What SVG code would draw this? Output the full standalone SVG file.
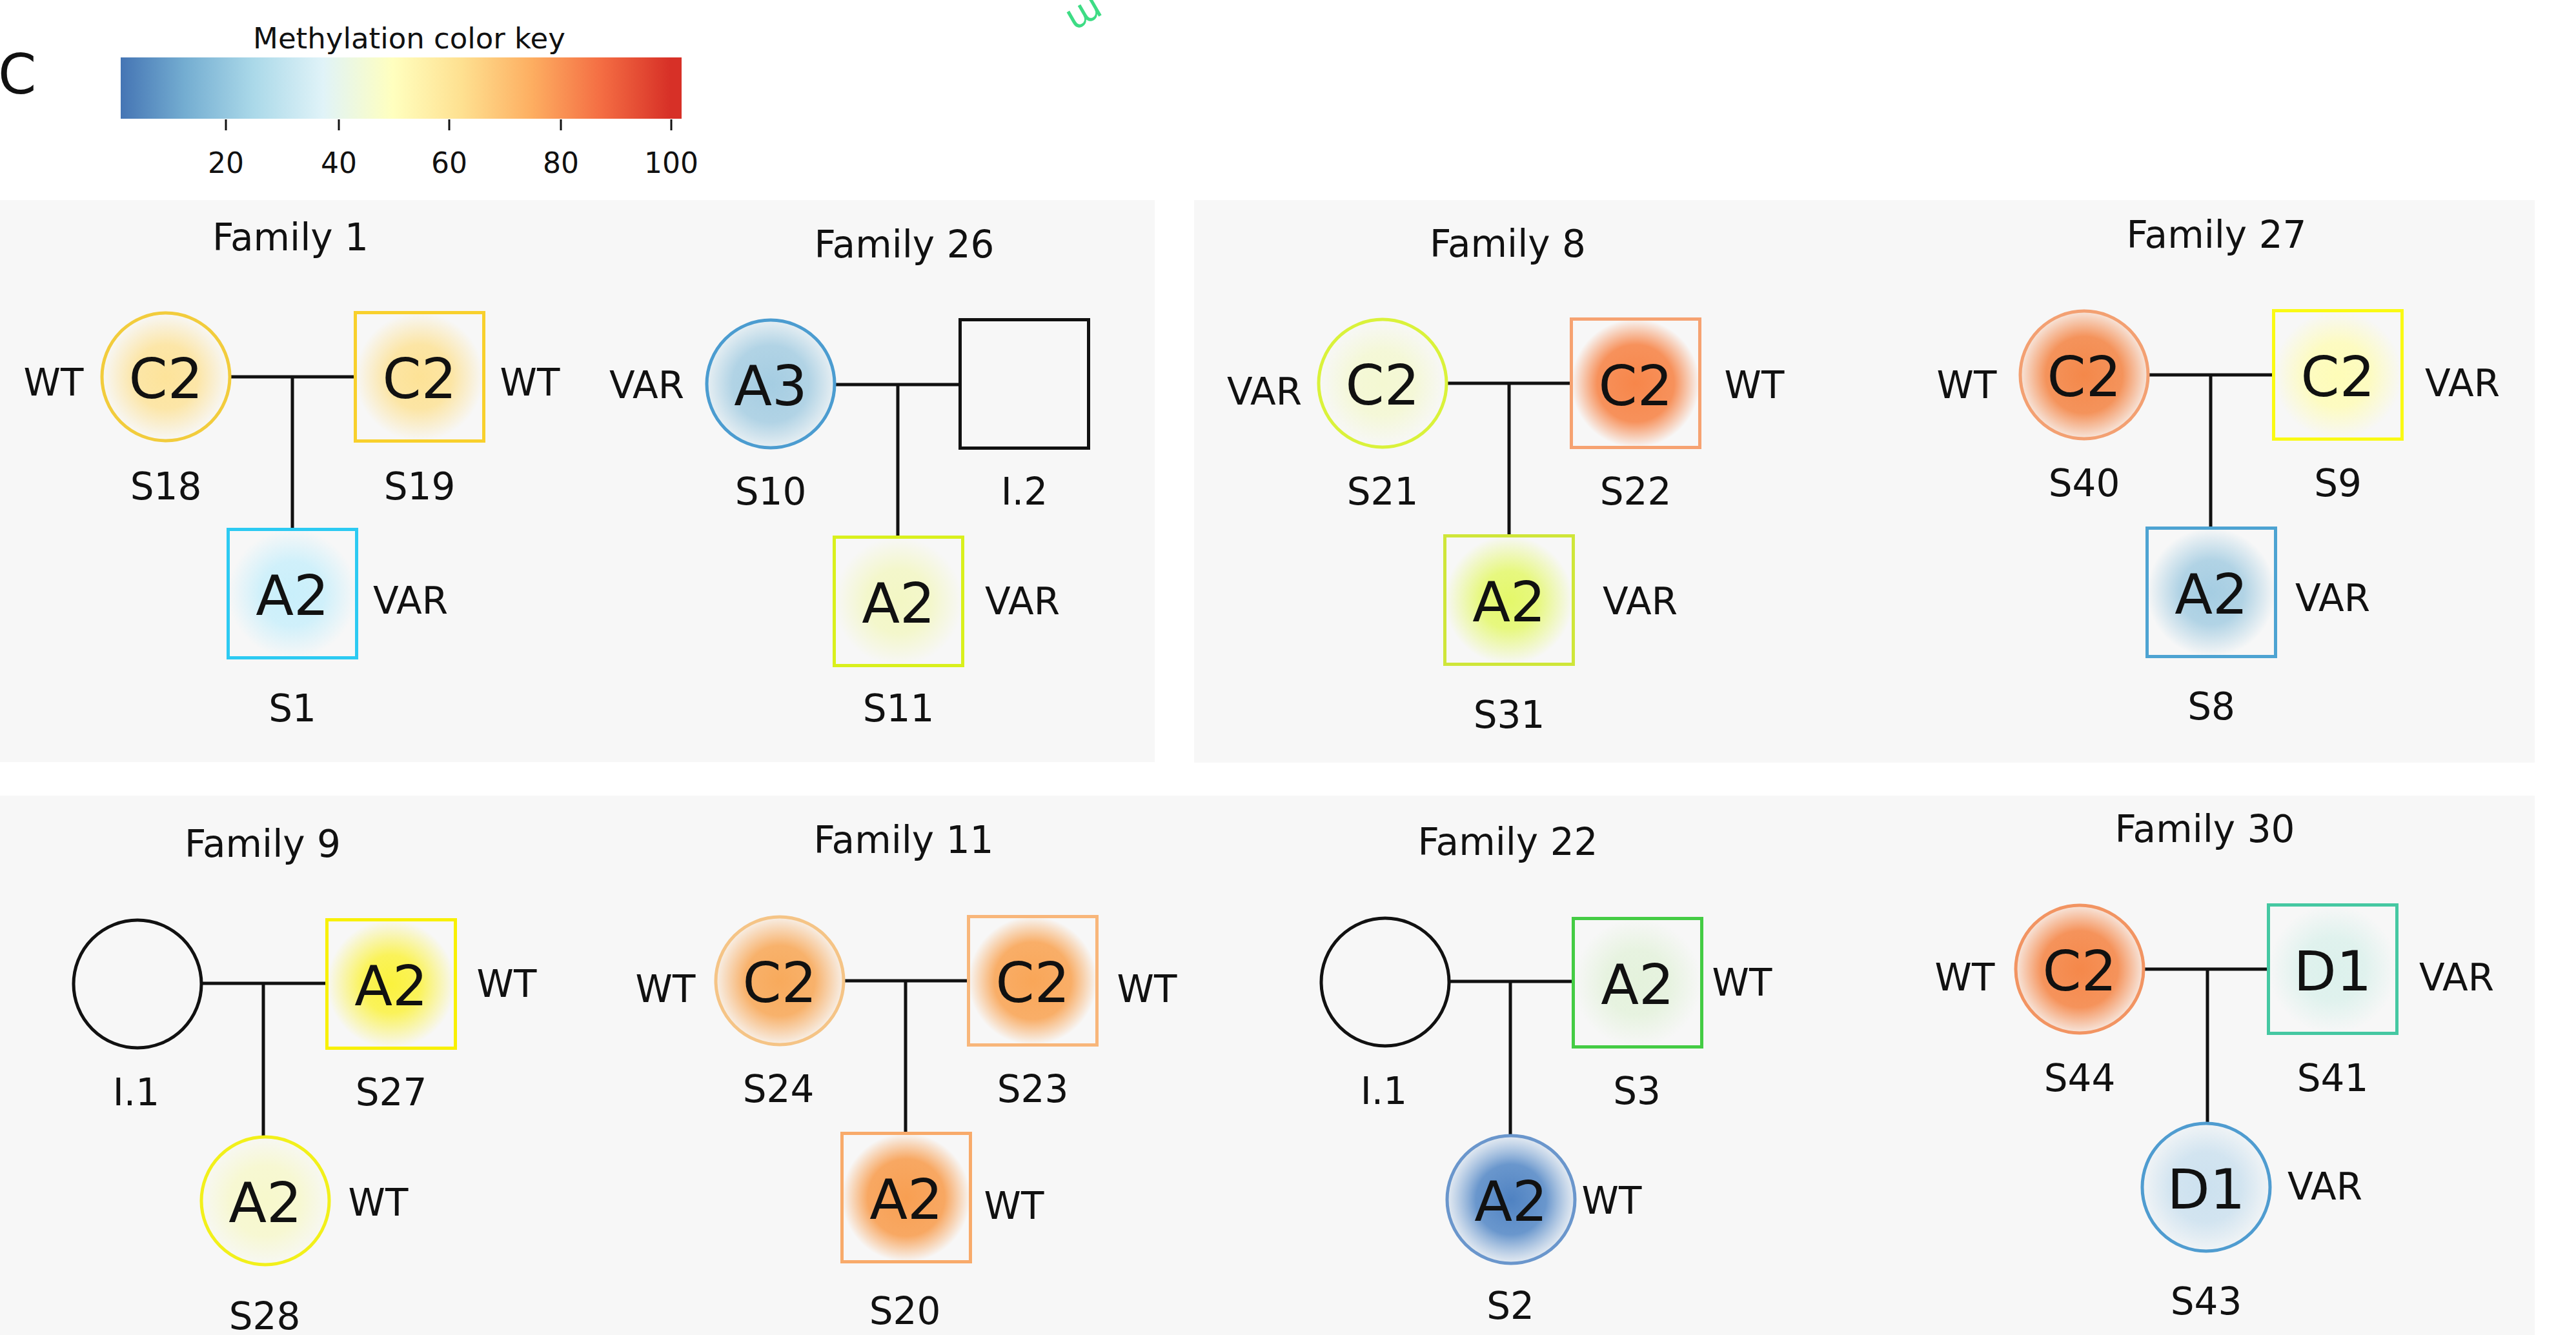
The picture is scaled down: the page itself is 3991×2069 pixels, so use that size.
<svg xmlns="http://www.w3.org/2000/svg" width="3991" height="2069" viewBox="0 0 3991 2069">
<style>
text{font-family:"DejaVu Sans","Liberation Sans",sans-serif;fill:#111}
.panel{fill:#f7f7f7}
.lbl{font-size:58px;text-anchor:middle}
.nid{font-size:86px;text-anchor:middle}
.tick{font-size:44px;text-anchor:middle}
.conn{stroke:#111;stroke-width:5;fill:none}
.nd{stroke-width:5}
.empty{fill:none;stroke:#111;stroke-width:5}
</style>
<defs>
<linearGradient id="cmap" x1="0" y1="0" x2="1" y2="0">
<stop offset="0" stop-color="#4575b4"/>
<stop offset="0.114" stop-color="#74add1"/>
<stop offset="0.238" stop-color="#abd9e9"/>
<stop offset="0.361" stop-color="#e0f3f8"/>
<stop offset="0.485" stop-color="#ffffbf"/>
<stop offset="0.609" stop-color="#fee090"/>
<stop offset="0.733" stop-color="#fdae61"/>
<stop offset="0.857" stop-color="#f46d43"/>
<stop offset="0.98" stop-color="#d73027"/>
<stop offset="1" stop-color="#d73027"/>
</linearGradient>
<radialGradient id="g_s18"><stop offset="0" stop-color="#fde39a"/><stop offset="0.5" stop-color="#fde39a" stop-opacity="0.85"/><stop offset="1" stop-color="#fde39a" stop-opacity="0"/></radialGradient>
<radialGradient id="g_s19"><stop offset="0" stop-color="#fde296"/><stop offset="0.5" stop-color="#fde296" stop-opacity="0.85"/><stop offset="1" stop-color="#fde296" stop-opacity="0"/></radialGradient>
<radialGradient id="g_s1"><stop offset="0" stop-color="#c9effb"/><stop offset="0.5" stop-color="#c9effb" stop-opacity="0.85"/><stop offset="1" stop-color="#c9effb" stop-opacity="0"/></radialGradient>
<radialGradient id="g_s10"><stop offset="0" stop-color="#a5cde2"/><stop offset="0.6" stop-color="#a5cde2" stop-opacity="0.85"/><stop offset="1" stop-color="#a5cde2" stop-opacity="0.2"/></radialGradient>
<radialGradient id="g_s11"><stop offset="0" stop-color="#f3f7c4"/><stop offset="0.5" stop-color="#f3f7c4" stop-opacity="0.85"/><stop offset="1" stop-color="#f3f7c4" stop-opacity="0"/></radialGradient>
<radialGradient id="g_s21"><stop offset="0" stop-color="#f4f8d2"/><stop offset="0.5" stop-color="#f4f8d2" stop-opacity="0.85"/><stop offset="1" stop-color="#f4f8d2" stop-opacity="0"/></radialGradient>
<radialGradient id="g_s22"><stop offset="0" stop-color="#f7864a"/><stop offset="0.6" stop-color="#f7864a" stop-opacity="0.9"/><stop offset="1" stop-color="#f7864a" stop-opacity="0"/></radialGradient>
<radialGradient id="g_s31"><stop offset="0" stop-color="#e4f86a"/><stop offset="0.45" stop-color="#e4f86a" stop-opacity="0.85"/><stop offset="1" stop-color="#e4f86a" stop-opacity="0"/></radialGradient>
<radialGradient id="g_s40"><stop offset="0" stop-color="#f4884a"/><stop offset="0.6" stop-color="#f4884a" stop-opacity="0.9"/><stop offset="1" stop-color="#f4884a" stop-opacity="0.15"/></radialGradient>
<radialGradient id="g_s9"><stop offset="0" stop-color="#fefcb8"/><stop offset="0.5" stop-color="#fefcb8" stop-opacity="0.85"/><stop offset="1" stop-color="#fefcb8" stop-opacity="0"/></radialGradient>
<radialGradient id="g_s8"><stop offset="0" stop-color="#a5cde2"/><stop offset="0.5" stop-color="#a5cde2" stop-opacity="0.85"/><stop offset="1" stop-color="#a5cde2" stop-opacity="0"/></radialGradient>
<radialGradient id="g_s27"><stop offset="0" stop-color="#fbf23e"/><stop offset="0.45" stop-color="#fbf23e" stop-opacity="0.85"/><stop offset="1" stop-color="#fbf23e" stop-opacity="0"/></radialGradient>
<radialGradient id="g_s28"><stop offset="0" stop-color="#f7f8cc"/><stop offset="0.55" stop-color="#f7f8cc" stop-opacity="0.85"/><stop offset="1" stop-color="#f7f8cc" stop-opacity="0.1"/></radialGradient>
<radialGradient id="g_s24"><stop offset="0" stop-color="#f8aa5c"/><stop offset="0.55" stop-color="#f8aa5c" stop-opacity="0.9"/><stop offset="1" stop-color="#f8aa5c" stop-opacity="0.1"/></radialGradient>
<radialGradient id="g_s23"><stop offset="0" stop-color="#f9a658"/><stop offset="0.6" stop-color="#f9a658" stop-opacity="0.9"/><stop offset="1" stop-color="#f9a658" stop-opacity="0"/></radialGradient>
<radialGradient id="g_s20"><stop offset="0" stop-color="#f89f52"/><stop offset="0.6" stop-color="#f89f52" stop-opacity="0.9"/><stop offset="1" stop-color="#f89f52" stop-opacity="0"/></radialGradient>
<radialGradient id="g_s3"><stop offset="0" stop-color="#e4f2dc"/><stop offset="0.5" stop-color="#e4f2dc" stop-opacity="0.85"/><stop offset="1" stop-color="#e4f2dc" stop-opacity="0"/></radialGradient>
<radialGradient id="g_s2"><stop offset="0" stop-color="#4f82c2"/><stop offset="0.55" stop-color="#5a8cc8" stop-opacity="0.9"/><stop offset="1" stop-color="#7aa4d4" stop-opacity="0.15"/></radialGradient>
<radialGradient id="g_s44"><stop offset="0" stop-color="#f5884a"/><stop offset="0.6" stop-color="#f5884a" stop-opacity="0.9"/><stop offset="1" stop-color="#f5884a" stop-opacity="0.15"/></radialGradient>
<radialGradient id="g_s41"><stop offset="0" stop-color="#dcf1ec"/><stop offset="0.5" stop-color="#dcf1ec" stop-opacity="0.85"/><stop offset="1" stop-color="#dcf1ec" stop-opacity="0"/></radialGradient>
<radialGradient id="g_s43"><stop offset="0" stop-color="#cce1ef"/><stop offset="0.55" stop-color="#cce1ef" stop-opacity="0.85"/><stop offset="1" stop-color="#cce1ef" stop-opacity="0.15"/></radialGradient>
</defs>
<rect width="3991" height="2069" fill="#ffffff"/>
<g id="panels">
<rect class="panel" x="0" y="310" width="1789" height="871"/>
<rect class="panel" x="1850" y="310" width="2077" height="872"/>
<rect class="panel" x="0" y="1233" width="3927" height="836"/>
</g>
<g id="header">
<text x="-3" y="145" style="font-size:85px">C</text>
<text x="1672" y="8" transform="rotate(150 1672 8)" style="font-size:56px;fill:#3ddc84;text-anchor:middle">m</text>
<text x="634" y="75" style="font-size:45px;text-anchor:middle">Methylation color key</text>
<rect x="187" y="89" width="869" height="95" fill="url(#cmap)"/>
<g stroke="#111" stroke-width="3">
<line x1="350" y1="185" x2="350" y2="202"/>
<line x1="525" y1="185" x2="525" y2="202"/>
<line x1="696" y1="185" x2="696" y2="202"/>
<line x1="869" y1="185" x2="869" y2="202"/>
<line x1="1040" y1="185" x2="1040" y2="202"/>
</g>
<text class="tick" x="350" y="268">20</text>
<text class="tick" x="525" y="268">40</text>
<text class="tick" x="696" y="268">60</text>
<text class="tick" x="869" y="268">80</text>
<text class="tick" x="1040" y="268">100</text>
</g>
<g id="titles">
<text class="lbl" x="450" y="388">Family 1</text>
<text class="lbl" x="1401" y="399">Family 26</text>
<text class="lbl" x="2336" y="398">Family 8</text>
<text class="lbl" x="3434" y="384">Family 27</text>
<text class="lbl" x="407" y="1328">Family 9</text>
<text class="lbl" x="1400" y="1322">Family 11</text>
<text class="lbl" x="2336" y="1325">Family 22</text>
<text class="lbl" x="3416" y="1305">Family 30</text>
</g>
<g id="connectors">
<path class="conn" d="M356 584H550M453 584V821"/>
<path class="conn" d="M1294 596H1487M1391 596V831"/>
<path class="conn" d="M2241 594H2435M2338 594V830"/>
<path class="conn" d="M3328 581H3522M3425 581V818"/>
<path class="conn" d="M312 1524H506M408 1524V1761"/>
<path class="conn" d="M1308 1520H1501M1403 1520V1756"/>
<path class="conn" d="M2244 1521H2438M2340 1521V1760"/>
<path class="conn" d="M3322 1502H3515M3420 1502V1740"/>
</g>
<!-- Family 1 -->
<g id="S18"><circle class="nd" cx="257" cy="584" r="99" fill="url(#g_s18)" stroke="#f2cc3c"/><text class="nid" x="257" y="617">C2</text><text class="lbl" x="257" y="774">S18</text><text class="lbl" x="83" y="613">WT</text></g>
<g id="S19"><rect class="nd" x="550.5" y="484.5" width="199" height="199" fill="url(#g_s19)" stroke="#f8d02c"/><text class="nid" x="650" y="617">C2</text><text class="lbl" x="650" y="774">S19</text><text class="lbl" x="821" y="613">WT</text></g>
<g id="S1"><rect class="nd" x="353.5" y="820.5" width="199" height="199" fill="url(#g_s1)" stroke="#2ccaf2"/><text class="nid" x="453" y="953">A2</text><text class="lbl" x="453" y="1118">S1</text><text class="lbl" x="636" y="951">VAR</text></g>
<!-- Family 26 -->
<g id="S10"><circle class="nd" cx="1194" cy="595" r="99" fill="url(#g_s10)" stroke="#4b9cd0"/><text class="nid" x="1194" y="628">A3</text><text class="lbl" x="1194" y="782">S10</text><text class="lbl" x="1002" y="617">VAR</text></g>
<g id="I2"><rect class="empty" x="1487.5" y="495.5" width="199" height="199"/><text class="lbl" x="1587" y="782">I.2</text></g>
<g id="S11"><rect class="nd" x="1292.5" y="832.5" width="199" height="199" fill="url(#g_s11)" stroke="#d9f01c"/><text class="nid" x="1392" y="965">A2</text><text class="lbl" x="1392" y="1118">S11</text><text class="lbl" x="1584" y="952">VAR</text></g>
<!-- Family 8 -->
<g id="S21"><circle class="nd" cx="2142" cy="594" r="99" fill="url(#g_s21)" stroke="#daf23a"/><text class="nid" x="2142" y="627">C2</text><text class="lbl" x="2142" y="782">S21</text><text class="lbl" x="1959" y="627">VAR</text></g>
<g id="S22"><rect class="nd" x="2434.5" y="494.5" width="199" height="199" fill="url(#g_s22)" stroke="#f6a271"/><text class="nid" x="2534" y="628">C2</text><text class="lbl" x="2534" y="782">S22</text><text class="lbl" x="2718" y="617">WT</text></g>
<g id="S31"><rect class="nd" x="2238.5" y="830.5" width="199" height="199" fill="url(#g_s31)" stroke="#cfe639"/><text class="nid" x="2338" y="963">A2</text><text class="lbl" x="2338" y="1128">S31</text><text class="lbl" x="2541" y="952">VAR</text></g>
<!-- Family 27 -->
<g id="S40"><circle class="nd" cx="3229" cy="581" r="99" fill="url(#g_s40)" stroke="#f3a072"/><text class="nid" x="3229" y="614">C2</text><text class="lbl" x="3229" y="769">S40</text><text class="lbl" x="3047" y="617">WT</text></g>
<g id="S9"><rect class="nd" x="3522.5" y="481.5" width="199" height="199" fill="url(#g_s9)" stroke="#fafa14"/><text class="nid" x="3622" y="614">C2</text><text class="lbl" x="3622" y="769">S9</text><text class="lbl" x="3815" y="614">VAR</text></g>
<g id="S8"><rect class="nd" x="3326.5" y="818.5" width="199" height="199" fill="url(#g_s8)" stroke="#4da3d2"/><text class="nid" x="3426" y="951">A2</text><text class="lbl" x="3426" y="1115">S8</text><text class="lbl" x="3614" y="947">VAR</text></g>
<!-- Family 9 -->
<g id="F9_I1"><circle class="empty" cx="213" cy="1525" r="99"/><text class="lbl" x="211" y="1713">I.1</text></g>
<g id="S27"><rect class="nd" x="506.5" y="1425.5" width="199" height="199" fill="url(#g_s27)" stroke="#f8f000"/><text class="nid" x="606" y="1558">A2</text><text class="lbl" x="606" y="1713">S27</text><text class="lbl" x="785" y="1545">WT</text></g>
<g id="S28"><circle class="nd" cx="411" cy="1861" r="99" fill="url(#g_s28)" stroke="#f2f01a"/><text class="nid" x="411" y="1894">A2</text><text class="lbl" x="410" y="2060">S28</text><text class="lbl" x="586" y="1884">WT</text></g>
<!-- Family 11 -->
<g id="S24"><circle class="nd" cx="1208" cy="1520" r="99" fill="url(#g_s24)" stroke="#f5c486"/><text class="nid" x="1208" y="1553">C2</text><text class="lbl" x="1206" y="1708">S24</text><text class="lbl" x="1031" y="1553">WT</text></g>
<g id="S23"><rect class="nd" x="1500.5" y="1420.5" width="199" height="199" fill="url(#g_s23)" stroke="#f8b67a"/><text class="nid" x="1600" y="1553">C2</text><text class="lbl" x="1600" y="1708">S23</text><text class="lbl" x="1777" y="1553">WT</text></g>
<g id="S20"><rect class="nd" x="1304.5" y="1756.5" width="199" height="199" fill="url(#g_s20)" stroke="#f8aa6a"/><text class="nid" x="1404" y="1889">A2</text><text class="lbl" x="1402" y="2052">S20</text><text class="lbl" x="1571" y="1889">WT</text></g>
<!-- Family 22 -->
<g id="F22_I1"><circle class="empty" cx="2146" cy="1522" r="99"/><text class="lbl" x="2144" y="1711">I.1</text></g>
<g id="S3"><rect class="nd" x="2437.5" y="1423.5" width="199" height="199" fill="url(#g_s3)" stroke="#44cc44"/><text class="nid" x="2537" y="1556">A2</text><text class="lbl" x="2536" y="1711">S3</text><text class="lbl" x="2699" y="1543">WT</text></g>
<g id="S2"><circle class="nd" cx="2341" cy="1859" r="99" fill="url(#g_s2)" stroke="#6a96cc"/><text class="nid" x="2341" y="1892">A2</text><text class="lbl" x="2340" y="2044">S2</text><text class="lbl" x="2497" y="1881">WT</text></g>
<!-- Family 30 -->
<g id="S44"><circle class="nd" cx="3222" cy="1502" r="99" fill="url(#g_s44)" stroke="#f29462"/><text class="nid" x="3222" y="1535">C2</text><text class="lbl" x="3222" y="1691">S44</text><text class="lbl" x="3044" y="1535">WT</text></g>
<g id="S41"><rect class="nd" x="3514.5" y="1402.5" width="199" height="199" fill="url(#g_s41)" stroke="#45c8a2"/><text class="nid" x="3614" y="1535">D1</text><text class="lbl" x="3614" y="1691">S41</text><text class="lbl" x="3806" y="1535">VAR</text></g>
<g id="S43"><circle class="nd" cx="3418" cy="1840" r="99" fill="url(#g_s43)" stroke="#4f9cd0"/><text class="nid" x="3418" y="1873">D1</text><text class="lbl" x="3418" y="2037">S43</text><text class="lbl" x="3602" y="1859">VAR</text></g>
</svg>
